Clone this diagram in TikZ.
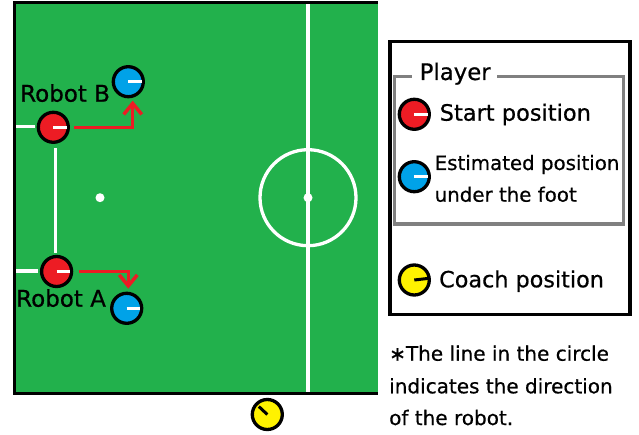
\documentclass[tikz,border=0pt]{standalone}
\usepackage{fontspec}
\setmainfont[FakeBold=0.6]{DejaVu Sans}
\usetikzlibrary{arrows.meta}
\definecolor{fieldgreen}{RGB}{34,177,76}
\definecolor{rred}{RGB}{237,28,36}
\definecolor{rblue}{RGB}{0,162,232}
\definecolor{ryellow}{RGB}{255,242,0}
\definecolor{boxgray}{RGB}{128,128,128}
\begin{document}
\begin{tikzpicture}[x=1pt,y=-1pt,
  robot/.style={circle,draw=black,line width=3.3pt,minimum size=30pt,inner sep=0pt},
  heading/.style={white,line width=3.2pt},
  coachdir/.style={black,line width=3pt},
  fieldline/.style={white,line width=3.3pt},
  move/.style={rred,line width=3.5pt,-{Straight Barb[length=11pt,width=18pt]}},
  lbl/.style={anchor=base west,inner sep=0pt,text=black}]
\useasboundingbox (0,0) rectangle (639,435);
\fill[white] (0,0) rectangle (639,435);
% field
\fill[fieldgreen] (14,3) rectangle (378,392);
\fill[black] (13,1.5) rectangle (16.3,394.5);
\fill[black] (13,1.5) rectangle (378,4.3);
\fill[black] (13,391.5) rectangle (378,394.5);
% field markings
\draw[fieldline] (308,4.3) -- (308,391.5);
\draw[fieldline] (308,197.7) circle[radius=48];
\fill[white] (308,197.7) circle[radius=4.5];
\fill[white] (100,197.7) circle[radius=4.5];
\draw[fieldline] (16,126.5) -- (34.5,126.5);
\draw[fieldline] (55.3,148.3) -- (55.3,253);
\draw[fieldline] (16,271) -- (37.7,271);
% robots on field
\node[robot,fill=rred] (rb) at (53.3,127.3) {};
\node[robot,fill=rred] (ra) at (56.6,271.5) {};
\node[robot,fill=rblue] (bb) at (128.3,81.7) {};
\node[robot,fill=rblue] (ba) at (126.7,308.3) {};
\draw[heading] (rb.center) -- ++(13.3,0);
\draw[heading] (ra.center) -- ++(13.3,0);
\draw[heading] (bb.center) -- ++(13.3,0);
\draw[heading] (ba.center) -- ++(13.3,0);
\draw[move] ([xshift=4.5pt]rb.east) -| ([xshift=4.4pt,yshift=-2.3pt]bb.south);
\draw[move] ([xshift=6pt]ra.east) -| ([xshift=1.6pt,yshift=3pt]ba.north);
\node[lbl,font=\fontsize{23}{27}\selectfont] (tb) at (20,101.7) {Robot B};
\node[lbl,font=\fontsize{23}{27}\selectfont] (ta) at (16,306.7) {Robot A};
% coach
\node[robot,fill=ryellow] (coach) at (267.3,414.5) {};
\draw[coachdir] (coach.center) -- ++(-8.5,-8);
% legend
\draw[black,line width=3.4pt] (390,41.7) rectangle (630,314.3);
\draw[boxgray,line width=3.2pt] (411.7,76.7) -- (394.3,76.7) -- (394.3,224) -- (623.3,224) -- (623.3,76.7) -- (497.3,76.7);
\node[lbl,font=\fontsize{22.8}{27}\selectfont] (tplayer) at (419.5,80) {Player};
\node[robot,fill=rred] (lr) at (414.3,114.3) {};
\draw[heading] (lr.center) -- ++(13.3,0);
\node[lbl,font=\fontsize{22.5}{27}\selectfont] (tstart) at (439.5,120.7) {Start position};
\node[robot,fill=rblue] (lb) at (414.3,176.7) {};
\draw[heading] (lb.center) -- ++(13.3,0);
\node[lbl,font=\fontsize{19.8}{24}\selectfont] (test1) at (434.5,170) {Estimated position};
\node[lbl,font=\fontsize{19.8}{24}\selectfont] (test2) at (434.5,201.7) {under the foot};
\node[robot,fill=ryellow] (ly) at (414.3,280) {};
\draw[coachdir] (ly.center) -- ++(14,-1.6);
\node[lbl,font=\fontsize{22.3}{27}\selectfont] (tcoach) at (439,287.3) {Coach position};
% note
\node[lbl,font=\fontsize{20}{24}\selectfont] (n1) at (389,360.7) {∗The line in the circle};
\node[lbl,font=\fontsize{20}{24}\selectfont] (n2) at (389,393.3) {indicates the direction};
\node[lbl,font=\fontsize{20}{24}\selectfont] (n3) at (389,425) {of the robot.};
\end{tikzpicture}
\end{document}
